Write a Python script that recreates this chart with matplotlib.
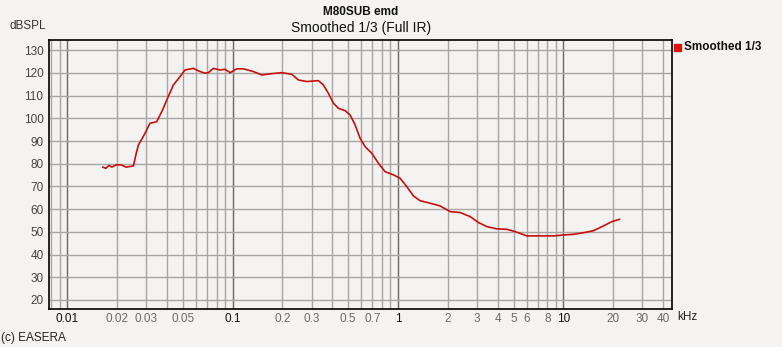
import matplotlib
matplotlib.use("Agg")
import matplotlib.pyplot as plt
import numpy as np

# Frequency in kHz and level in dB SPL
freq_khz = [0.0164, 0.0171, 0.0179, 0.0186, 0.0197, 0.0211, 0.0227, 0.0240, 0.0251,
            0.0260, 0.0269, 0.0283, 0.0295, 0.0316, 0.0347, 0.0373, 0.0408, 0.0438,
            0.0481, 0.0515, 0.0578, 0.0635, 0.0681, 0.0713, 0.0764, 0.0839, 0.0900,
            0.0965, 0.1059, 0.1161, 0.1335, 0.1500, 0.1684, 0.1982, 0.2278, 0.2497,
            0.2808, 0.3300, 0.3538, 0.3793, 0.4067, 0.4359, 0.4786, 0.5131, 0.5502,
            0.5898, 0.6324, 0.6942, 0.7612, 0.8356, 0.9380, 1.030, 1.130, 1.240,
            1.361, 1.564, 1.798, 2.067, 2.376, 2.731, 3.065, 3.445, 3.960, 4.552,
            5.110, 6.015, 7.237, 8.712, 10.01, 11.51, 13.23, 15.21, 17.48, 19.65, 21.85]
spl_db = [78.5, 78.0, 79.2, 78.5, 79.5, 79.5, 78.5, 78.8, 79.0,
          84.0, 88.2, 91.0, 93.4, 97.8, 98.5, 103.0, 109.6, 114.7,
          118.4, 121.3, 122.0, 120.6, 119.9, 120.1, 122.0, 121.3, 121.6,
          120.1, 121.8, 121.8, 120.6, 119.1, 119.6, 120.1, 119.4, 116.9,
          116.2, 116.6, 114.7, 111.0, 106.7, 104.4, 103.4, 101.5, 97.1,
          91.2, 87.5, 84.6, 80.2, 76.5, 75.1, 73.6, 69.9, 65.8,
          63.7, 62.6, 61.4, 58.9, 58.5, 56.7, 54.1, 52.3, 51.3, 51.1,
          50.1, 48.2, 48.2, 48.2, 48.6, 48.9, 49.6, 50.5, 52.6, 54.5, 55.5]

xtick_vals = [0.01, 0.02, 0.03, 0.05, 0.1, 0.2, 0.3, 0.5, 0.7, 1, 2, 3, 4, 5, 6, 8, 10, 20, 30, 40]
xtick_labels = ["0.01", "0.02", "0.03", "0.05", "0.1", "0.2", "0.3", "0.5", "0.7", "1",
                "2", "3", "4", "5", "6", "8", "10", "20", "30", "40"]
ytick_vals = [20, 30, 40, 50, 60, 70, 80, 90, 100, 110, 120, 130]

title_top = "M80SUB emd"
title_main = "Smoothed 1/3 (Full IR)"
legend_label = "Smoothed 1/3"

bg = "#f4f3f2"
W, H = 782, 347
fig = plt.figure(figsize=(W / 100, H / 100), dpi=100, facecolor=bg)
ax = fig.add_axes([49 / W, 1 - 309 / H, (672 - 49) / W, (309 - 40) / H])
ax.set_facecolor(bg)
ax.set_xscale("log")
ax.set_xlim(0.00775, 45.4)
ax.set_ylim(16, 134.5)

# grid lines
minor_lines = []
for d in [0.001, 0.01, 0.1, 1, 10]:
    for m in range(2, 10):
        v = d * m
        if 0.00775 < v < 45.4:
            minor_lines.append(v)
for v in minor_lines:
    ax.axvline(v, color="#a9a5a1", lw=1.0, zorder=1)
for v in [0.01, 0.1, 1, 10]:
    ax.axvline(v, color="#6b6764", lw=1.0, zorder=1)
for v in ytick_vals:
    ax.axhline(v, color="#a9a5a1", lw=1.0, zorder=1)

ax.plot(freq_khz, spl_db, color="#c41010", lw=1.2, zorder=3)

for s in ax.spines.values():
    s.set_color("black")
    s.set_linewidth(1.2)

fam = ["Liberation Sans", "DejaVu Sans"]
ax.set_xticks(xtick_vals)
ax.set_xticklabels(xtick_labels, fontsize=8.5, family=fam)
ax.xaxis.set_minor_locator(matplotlib.ticker.NullLocator())
for lbl, v in zip(ax.get_xticklabels(), xtick_vals):
    lbl.set_color("#111111" if v in (0.01, 0.1, 1, 10) else "#6a6a6a")
ax.set_yticks(ytick_vals)
ax.set_yticklabels([str(v) for v in ytick_vals], fontsize=8.5, family=fam, color="#444444")
ax.tick_params(axis="both", length=0, pad=4)
ax.tick_params(axis="x", pad=3)

fig.text(46 / W, 1 - 26 / H, "dBSPL", ha="right", va="center", fontsize=8.5, family=fam, color="#333333")
fig.text(677 / W, 1 - 317 / H, "kHz", ha="left", va="center", fontsize=8.5, family=fam, color="#222222")
fig.text(1 / W, 1 - 338 / H, "(c) EASERA", ha="left", va="center", fontsize=8.5, family=fam, color="#222222")
fig.text(361 / W, 1 - 12 / H, title_top, ha="center", va="center", fontsize=8.5, family=fam,
         weight="bold", color="#111111")
fig.text(361 / W, 1 - 28 / H, title_main, ha="center", va="center", fontsize=10, family=fam,
         color="#111111")

# legend
fig.patches.append(matplotlib.patches.Rectangle((674 / W, 1 - 51 / H), 7 / W, 7 / H,
                                                transform=fig.transFigure, color="#dd1111"))
fig.text(684 / W, 1 - 47 / H, legend_label, ha="left", va="center", fontsize=8.5, family=fam,
         weight="bold", color="#111111")

fig.savefig("out.png", dpi=100, facecolor=bg)
